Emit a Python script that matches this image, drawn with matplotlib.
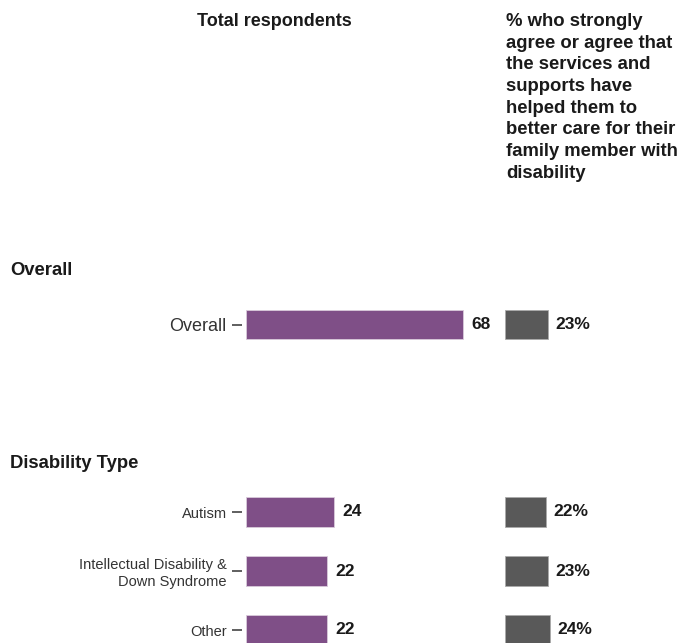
import matplotlib
matplotlib.use("Agg")
import matplotlib.pyplot as plt

plt.rcParams['font.family'] = ['Liberation Sans', 'DejaVu Sans']

# data
overall_labels = ["Overall"]
overall_n = [68]
overall_pct = [23]

dis_labels = ["Autism", "Intellectual Disability &\nDown Syndrome", "Other"]
dis_n = [24, 22, 22]
dis_pct = [22, 23, 24]

purple = "#7f4f87"
grey = "#595959"
W, H = 681, 643

fig = plt.figure(figsize=(W / 100, H / 100), dpi=100)


def px_axes(left, top, width, height):
    ax = fig.add_axes([left / W, 1 - (top + height) / H, width / W, height / H])
    for s in ax.spines.values():
        s.set_visible(False)
    ax.set_facecolor("none")
    return ax


def draw_group(top, labels, n, pct, scale, lab_size):
    # scale = pixels per unit on the left panel
    rows = len(labels)
    h = 59 * rows
    axl = px_axes(242, top, 254, h)
    y = list(range(rows))
    axl.barh(y, n, height=0.5, color=purple, edgecolor="#d9cadb", linewidth=0.6)
    axl.set_xlim(-4 / scale, 250 / scale)
    axl.set_ylim(rows - 0.5, -0.5)
    axl.set_yticks(y)
    axl.set_yticklabels(labels, fontsize=lab_size, color="#333333", linespacing=1.25)
    axl.tick_params(axis="y", length=7, width=1.2, color="#444444", pad=4)
    axl.set_xticks([])
    for yi, v in zip(y, n):
        axl.annotate(f"{v}", (v, yi), xytext=(6, 0), textcoords="offset points",
                     va="center", ha="left", fontsize=12.5, fontweight="bold", color="#1a1a1a")

    axr = px_axes(505, top, 176, h)
    axr.barh(y, pct, height=0.5, color=grey, edgecolor="#aaaaaa", linewidth=0.6)
    axr.set_xlim(0, 94)
    axr.set_ylim(rows - 0.5, -0.5)
    axr.set_xticks([])
    axr.set_yticks([])
    for yi, v in zip(y, pct):
        axr.annotate(f"{v}%", (v, yi), xytext=(5, 0), textcoords="offset points",
                     va="center", ha="left", fontsize=12.5, fontweight="bold", color="#1a1a1a")


draw_group(295, overall_labels, overall_n, overall_pct, 3.19, 13)
draw_group(482.5, dis_labels, dis_n, dis_pct, 3.67, 10.5)

# headers
fig.text(274 / W, 1 - 21 / H, "Total respondents", ha="center", va="center",
         fontsize=13, fontweight="bold", color="#1a1a1a")
fig.text(506 / W, 1 - 13 / H,
         "% who strongly\nagree or agree that\nthe services and\nsupports have\nhelped them to\nbetter care for their\nfamily member with\ndisability",
         ha="left", va="top", fontsize=13.3, fontweight="bold", color="#1a1a1a", linespacing=1.36)

fig.text(10 / W, 1 - 271 / H, "Overall", ha="left", va="center",
         fontsize=13.3, fontweight="bold", color="#1a1a1a")
fig.text(10 / W, 1 - 463 / H, "Disability Type", ha="left", va="center",
         fontsize=13.3, fontweight="bold", color="#1a1a1a")

fig.savefig("out.png", dpi=100, facecolor="white")
